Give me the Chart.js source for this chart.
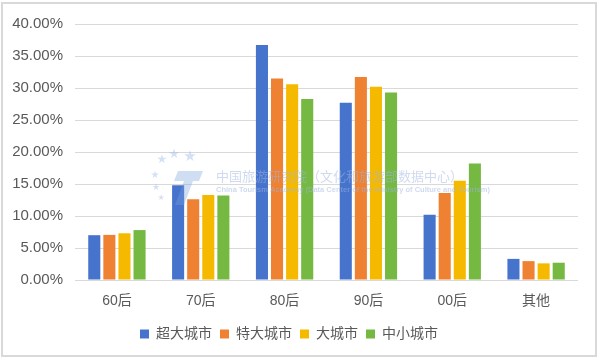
<!DOCTYPE html>
<html>
<head>
<meta charset="utf-8">
<script src="https://cdn.jsdelivr.net/npm/chart.js@4/dist/chart.umd.min.js"></script>
<style>
  html, body { margin: 0; padding: 0; background: #fff; }
  #wrap { position: absolute; left: 0; top: 0; width: 601px; height: 360px; }
</style>
</head>
<body>
<div id="wrap"><canvas id="c" width="601" height="360"></canvas></div>
<script>
const categories = ['60后', '70后', '80后', '90后', '00后', '其他'];
const seriesNames = ['超大城市', '特大城市', '大城市', '中小城市'];
const superCity = [7.0, 14.8, 36.7, 27.7, 10.2, 3.3];
const megaCity = [7.05, 12.6, 31.5, 31.7, 13.6, 2.95];
const bigCity = [7.3, 13.3, 30.6, 30.2, 15.5, 2.6];
const smallCity = [7.8, 13.2, 28.3, 29.3, 18.2, 2.7];
const yTicks = [0, 5, 10, 15, 20, 25, 30, 35, 40];

const colors = ['#4673CC', '#EE8132', '#F5BA00', '#75B942'];
const seriesData = [superCity, megaCity, bigCity, smallCity];

const FONT = '"Liberation Sans", "Noto Sans CJK SC", sans-serif';
const TXT = '#595959';

const framePlugin = {
  id: 'frame',
  beforeDraw(chart) {
    const ctx = chart.ctx;
    ctx.save();
    ctx.fillStyle = '#fff';
    ctx.fillRect(0, 0, chart.width, chart.height);
    ctx.strokeStyle = '#d9d9d9';
    ctx.lineWidth = 2;
    ctx.strokeRect(2, 3, 594, 353);
    ctx.restore();
  }
};

const watermarkPlugin = {
  id: 'watermark',
  afterDatasetsDraw(chart) {
    const ctx = chart.ctx;
    ctx.save();
    ctx.fillStyle = 'rgba(160,188,228,0.45)';
    ctx.textAlign = 'center';
    ctx.textBaseline = 'middle';
    const stars = [[162,160,12],[174,155,13],[190,157,15],[155,175,10],[156,188,9],[161,198,8]];
    stars.forEach(s => { ctx.font = s[2] + 'px "DejaVu Sans"'; ctx.fillText('★', s[0], s[1]); });
    ctx.fillStyle = 'rgba(120,160,220,0.35)';
    ctx.beginPath();
    ctx.moveTo(178, 171); ctx.lineTo(203, 171); ctx.lineTo(199, 181); ctx.lineTo(174, 181); ctx.closePath();
    ctx.fill();
    ctx.beginPath();
    ctx.moveTo(184, 181); ctx.lineTo(193, 181); ctx.lineTo(184, 205); ctx.lineTo(175, 205); ctx.closePath();
    ctx.fill();
    ctx.textAlign = 'left';
    ctx.textBaseline = 'alphabetic';
    ctx.fillStyle = 'rgba(160,182,225,0.5)';
    ctx.font = '13px "Noto Sans CJK SC"';
    ctx.fillText('中国旅游研究院（文化和旅游部数据中心）', 216, 181);
    ctx.font = 'bold 7.5px "Liberation Sans"';
    ctx.fillText('China Tourism Academy (Data Center of the Ministry of Culture and Tourism)', 216, 192);
    ctx.restore();
  }
};

new Chart(document.getElementById('c'), {
  type: 'bar',
  data: {
    labels: categories,
    datasets: seriesNames.map((n, i) => ({
      label: n,
      data: seriesData[i],
      backgroundColor: colors[i],
      borderWidth: 0,
      barPercentage: 0.8,
      categoryPercentage: 0.72
    }))
  },
  options: {
    responsive: false,
    animation: false,
    devicePixelRatio: 1,
    layout: { padding: { left: 0, right: 23, top: 24, bottom: 9 } },
    plugins: {
      legend: {
        position: 'bottom',
        labels: {
          boxWidth: 9, boxHeight: 9,
          padding: 8,
          color: TXT,
          font: { family: FONT, size: 14 }
        }
      },
      tooltip: { enabled: false }
    },
    scales: {
      x: {
        grid: { display: false },
        border: { display: false },
        ticks: { color: TXT, font: { family: FONT, size: 14 }, padding: 5 },
        afterFit(s) { s.height = 39; }
      },
      y: {
        min: 0, max: 40,
        afterBuildTicks(s) { s.ticks = yTicks.map(v => ({ value: v })); },
        grid: { color: '#d9d9d9', lineWidth: 1, drawTicks: false },
        border: { display: false },
        ticks: {
          color: TXT,
          font: { family: FONT, size: 15 },
          padding: 12,
          callback: v => v.toFixed(2) + '%'
        },
        afterFit(s) { s.width = 75; }
      }
    }
  },
  plugins: [framePlugin, watermarkPlugin]
});
</script>
</body>
</html>
